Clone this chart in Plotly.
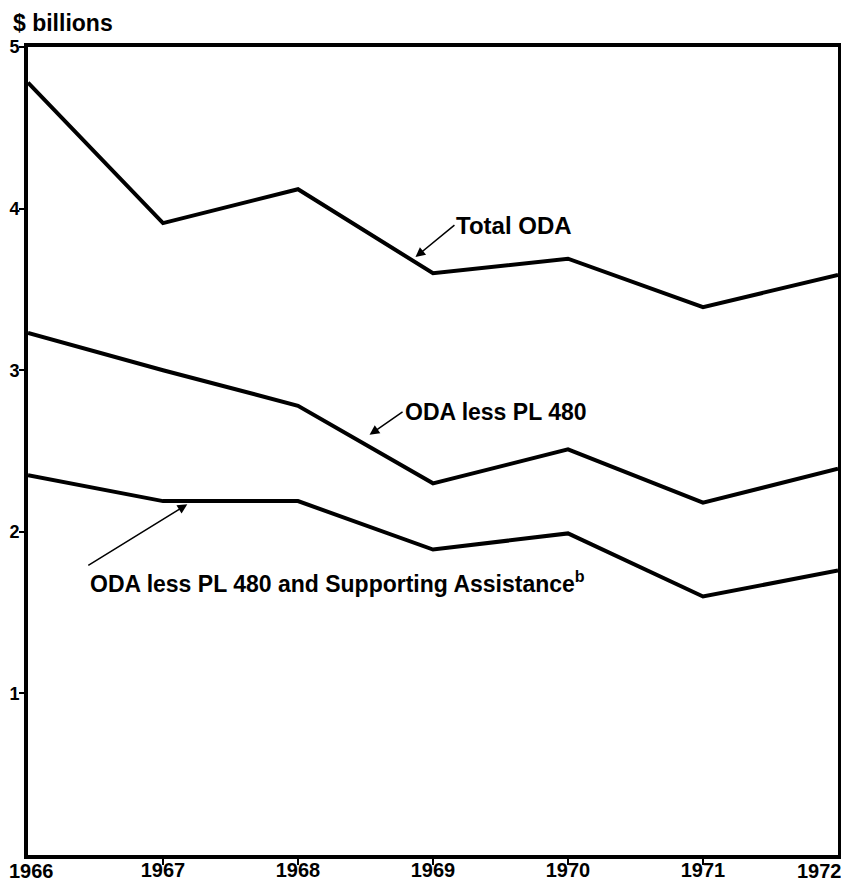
import plotly.graph_objects as go

years = [1966, 1967, 1968, 1969, 1970, 1971, 1972]
total_oda = [4.78, 3.91, 4.12, 3.60, 3.69, 3.39, 3.59]
oda_less_pl480 = [3.23, 3.00, 2.78, 2.30, 2.51, 2.18, 2.39]
oda_less_pl480_sa = [2.35, 2.19, 2.19, 1.89, 1.99, 1.60, 1.76]
y_ticks = [1, 2, 3, 4, 5]
y_tick_labels = ["1", "2", "3", "4", "5"]
x_tick_labels = [str(y) for y in years]

# page has an 8px body margin; figure sized to fit inside 849x890
OFF = 8
W, H = 833, 874
L, R, T, B = 20, 3, 39, 27
pw, ph = W - L - R, H - T - B

def px(x):
    return (x - OFF - L) / pw

def py(y):
    return (H - B - (y - OFF)) / ph

FONT = "Liberation Sans"
LBL = dict(family=FONT, size=23, color="black")
TICKF = dict(family=FONT, size=20, color="black")

fig = go.Figure()
for series in (total_oda, oda_less_pl480, oda_less_pl480_sa):
    fig.add_trace(go.Scatter(x=years, y=series, mode="lines",
                             line=dict(color="black", width=4),
                             showlegend=False, hoverinfo="skip"))

arrow_style = dict(showarrow=True, arrowhead=2, arrowsize=1.3, arrowwidth=1.5,
                   arrowcolor="black", standoff=0, xref="x", yref="y")

annotations = [
    dict(text="<b>$ billions</b>", xref="paper", yref="paper", x=px(11), y=py(23),
         xanchor="left", yanchor="middle", showarrow=False,
         font=dict(family=FONT, size=23, color="black")),
    dict(text="<b>Total ODA</b>", x=1968.87, y=3.70, ax=39, ay=-32,
         xanchor="left", yanchor="middle",
         font=dict(family=FONT, size=24, color="black"), **arrow_style),
    dict(text="<b>ODA less PL 480</b>", x=1968.53, y=2.60, ax=33, ay=-23,
         xanchor="left", yanchor="middle", font=LBL, **arrow_style),
    dict(text="<b>ODA less PL 480 and Supporting Assistance<sup>b</sup></b>",
         x=1967.18, y=2.17, ax=-99, ay=61,
         xanchor="left", yanchor="top", font=LBL, **arrow_style),
    # end-of-axis year labels, shifted inward as in the original
    dict(text="<b>" + x_tick_labels[0] + "</b>", xref="paper", yref="paper",
         x=px(7), y=py(871), xanchor="left", yanchor="middle", showarrow=False,
         font=TICKF),
    dict(text="<b>" + x_tick_labels[-1] + "</b>", xref="paper", yref="paper",
         x=px(844), y=py(871), xanchor="right", yanchor="middle", showarrow=False,
         font=TICKF),
]

x_ticktext = ["<b>" + t + "</b>" for t in x_tick_labels[1:-1]]
y_ticktext = ["<b>" + t + "</b>" for t in y_tick_labels]

fig.update_layout(
    width=W, height=H,
    margin=dict(l=L, r=R, t=T, b=B),
    paper_bgcolor="white", plot_bgcolor="white",
    font=dict(family=FONT, color="black"),
    annotations=annotations,
    xaxis=dict(range=[1966, 1972], tickvals=years[1:-1], ticktext=x_ticktext,
               automargin=False,
               showgrid=False, zeroline=False, showline=True, linecolor="black",
               linewidth=4, mirror=True, ticks="outside", ticklen=6, tickwidth=2,
               tickcolor="black", ticklabelstandoff=-12, tickfont=TICKF),
    yaxis=dict(range=[0, 5], tickvals=y_ticks, ticktext=y_ticktext,
               automargin=False,
               showgrid=False, zeroline=False, showline=True, linecolor="black",
               linewidth=4, mirror=True, ticks="outside", ticklen=5, tickwidth=2,
               tickcolor="black", ticklabelstandoff=-4,
               tickfont=dict(family=FONT, size=18, color="black")),
)

fig.write_html("out.html")
